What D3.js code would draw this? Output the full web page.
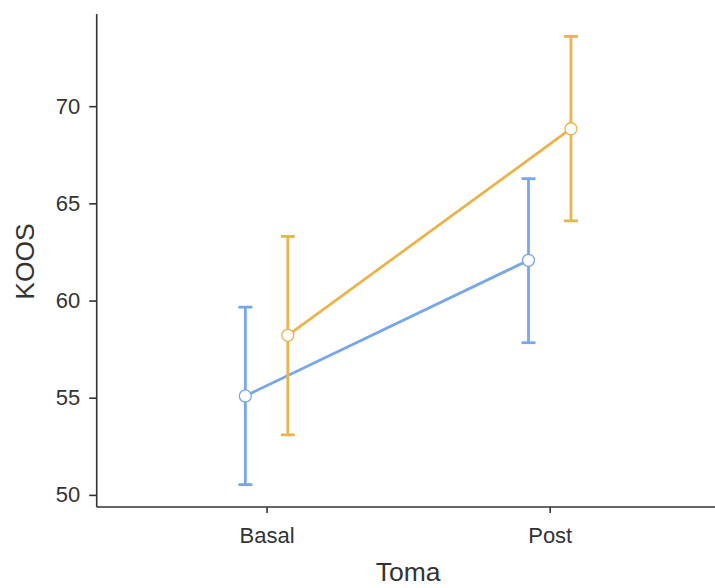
<!DOCTYPE html>
<html>
<head>
<meta charset="utf-8">
<script src="https://cdn.jsdelivr.net/npm/d3@7/dist/d3.min.js"></script>
<style>
  body { margin: 0; background: #fff; }
  svg { display: block; font-family: "Liberation Sans", Arial, sans-serif; }
</style>
</head>
<body>
<svg id="chart" width="715" height="588"></svg>
<script>
// data
const tomas = ["Basal", "Post"];
const groups = ["A", "B"];
const colors = ["#78a6eb", "#e9b44c"];
const means = [[55.09, 62.07], [58.21, 68.84]];
const lower = [[50.53, 57.83], [53.09, 64.10]];
const upper = [[59.66, 66.27], [63.30, 73.59]];
const yTicks = [50, 55, 60, 65, 70];

const svg = d3.select("#chart"),
  pLeft = 96.7, pRight = 719.6, pTop = 14, pBottom = 507,
  dodge = 0.075, capHalf = 7, r = 6;

const x = d3.scalePoint()
  .domain(tomas)
  .range([pLeft, pRight])
  .padding(0.6);
const step = x.step();

const lo = d3.min(lower.flat()), hi = d3.max(upper.flat()),
  pad = (hi - lo) * 0.05;
const y = d3.scaleLinear()
  .domain([lo - pad, hi + pad])
  .range([pBottom, pTop]);

const xPos = (g, i) => x(tomas[i]) + (g === 0 ? -1 : 1) * dodge * step;

// axes
const yAxis = svg.append("g")
  .attr("transform", `translate(${pLeft},0)`)
  .call(d3.axisLeft(y).tickValues(yTicks).tickSize(7.5).tickPadding(9).tickSizeOuter(0));
const xAxis = svg.append("g")
  .attr("transform", `translate(0,${pBottom})`)
  .call(d3.axisBottom(x).tickSize(6).tickPadding(14.5).tickSizeOuter(0));

[yAxis, xAxis].forEach(a => {
  a.select(".domain").attr("stroke", "#333").attr("stroke-width", 1.6);
  a.selectAll(".tick line").attr("stroke", "#333").attr("stroke-width", 1.6);
  a.selectAll(".tick text").attr("fill", "#333").style("font-size", "22px");
});
yAxis.select(".domain").attr("d", `M0,${pBottom}V${pTop}`);
xAxis.select(".domain").attr("d", `M${pLeft},0H${pRight}`);

svg.append("text")
  .attr("x", (pLeft + pRight) / 2)
  .attr("y", 581)
  .attr("text-anchor", "middle")
  .attr("fill", "#333")
  .style("font-size", "26.5px")
  .text("Toma");

svg.append("text")
  .attr("transform", `translate(33.5,${(pTop + pBottom) / 2 + 1}) rotate(-90)`)
  .attr("text-anchor", "middle")
  .attr("fill", "#333")
  .style("font-size", "26.5px")
  .text("KOOS");

// series
groups.forEach((g, gi) => {
  const c = colors[gi];
  const pts = tomas.map((t, i) => ({ x: xPos(gi, i), m: means[gi][i], lo: lower[gi][i], hi: upper[gi][i] }));

  const eb = svg.append("g").attr("stroke", c).attr("stroke-width", 2.8).attr("fill", "none");
  pts.forEach(p => {
    eb.append("line").attr("x1", p.x).attr("x2", p.x).attr("y1", y(p.lo)).attr("y2", y(p.hi));
    eb.append("line").attr("x1", p.x - capHalf).attr("x2", p.x + capHalf).attr("y1", y(p.lo)).attr("y2", y(p.lo));
    eb.append("line").attr("x1", p.x - capHalf).attr("x2", p.x + capHalf).attr("y1", y(p.hi)).attr("y2", y(p.hi));
  });

  svg.append("path")
    .datum(pts)
    .attr("fill", "none")
    .attr("stroke", c)
    .attr("stroke-width", 2.8)
    .attr("d", d3.line().x(d => d.x).y(d => y(d.m)));

  svg.append("g").selectAll("circle")
    .data(pts)
    .join("circle")
    .attr("cx", d => d.x)
    .attr("cy", d => y(d.m))
    .attr("r", r)
    .attr("fill", "#fff")
    .attr("stroke", c)
    .attr("stroke-width", 1.3);
});
</script>
</body>
</html>
